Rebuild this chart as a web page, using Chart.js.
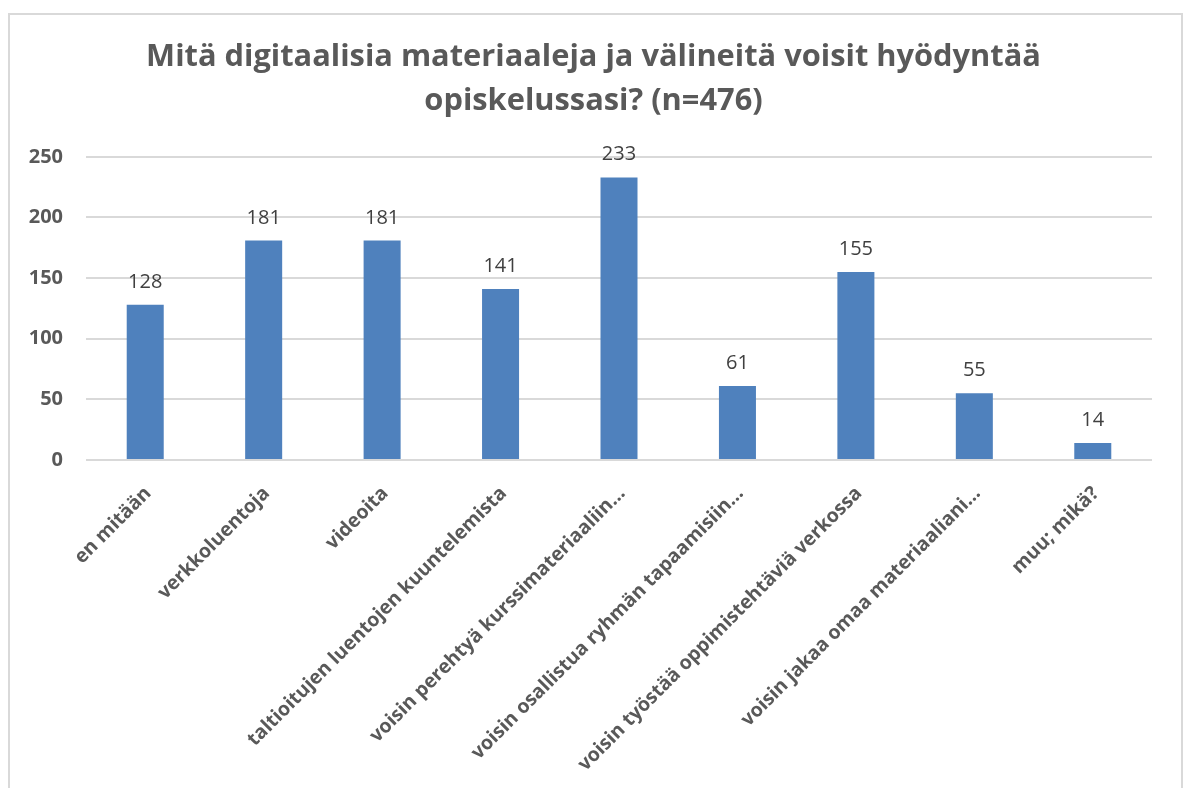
<!DOCTYPE html>
<html><head><meta charset="utf-8">
<script src="https://cdn.jsdelivr.net/npm/chart.js@4"></script>
<style>html,body{margin:0;padding:0;background:#fff;overflow:hidden}#wrap{position:relative;width:1187px;height:788px}</style>
</head><body><div id="wrap"><canvas id="c" width="1187" height="788"></canvas></div>
<script>
const titleLines = ['Mitä digitaalisia materiaaleja ja välineitä voisit hyödyntää', 'opiskelussasi? (n=476)'];
const categories = ['en mitään', 'verkkoluentoja', 'videoita', 'taltioitujen luentojen kuuntelemista', 'voisin perehtyä kurssimateriaaliin…', 'voisin osallistua ryhmän tapaamisiin…', 'voisin työstää oppimistehtäviä verkossa', 'voisin jakaa omaa materiaaliani…', 'muu; mikä?'];
const counts = [128, 181, 181, 141, 233, 61, 155, 55, 14];
const yTicks = [0, 50, 100, 150, 200, 250];

const frame = {
  id: 'frame',
  beforeDraw(chart) {
    const ctx = chart.ctx;
    ctx.save();
    ctx.fillStyle = '#ffffff';
    ctx.fillRect(0, 0, chart.width, chart.height);
    ctx.strokeStyle = '#d9d9d9';
    ctx.lineWidth = 2;
    ctx.strokeRect(9, 14, 1173, 800);
    ctx.restore();
  }
};
const valueLabels = {
  id: 'valueLabels',
  afterDatasetsDraw(chart) {
    const ctx = chart.ctx;
    const meta = chart.getDatasetMeta(0);
    ctx.save();
    ctx.font = '20px "Open Sans"';
    ctx.fillStyle = '#404040';
    ctx.textAlign = 'center';
    ctx.textBaseline = 'alphabetic';
    meta.data.forEach((bar, i) => {
      ctx.fillText(String(chart.data.datasets[0].data[i]), bar.x, bar.y - 17);
    });
    ctx.restore();
  }
};

new Chart(document.getElementById('c'), {
  type: 'bar',
  data: {
    labels: categories,
    datasets: [{
      data: counts,
      backgroundColor: '#4f81bd',
      borderWidth: 0,
      barPercentage: 0.3125,
      categoryPercentage: 1
    }]
  },
  options: {
    responsive: false,
    animation: false,
    devicePixelRatio: 1,
    layout: { padding: 0 },
    plugins: {
      legend: { display: false },
      tooltip: { enabled: false },
      title: {
        display: true,
        text: titleLines,
        color: '#595959',
        font: { family: '"Open Sans"', size: 30.8, weight: 'bold', lineHeight: 1.41 },
        padding: { top: 36, bottom: 34 }
      }
    },
    scales: {
      x: {
        grid: { display: false, drawTicks: false },
        border: { display: false },
        afterFit: s => { s.height = 328; },
        ticks: {
          autoSkip: false,
          minRotation: 45,
          maxRotation: 45,
          padding: 22,
          labelOffset: 3,
          color: '#595959',
          font: { family: '"Open Sans"', size: 19.5, weight: 'bold' }
        }
      },
      y: {
        min: 0,
        max: 250,
        afterFit: s => { s.width = 86; },
        afterBuildTicks: s => { s.ticks = yTicks.map(v => ({ value: v })); },
        grid: { color: '#d9d9d9', lineWidth: 2, drawTicks: false },
        border: { display: false },
        ticks: {
          padding: 23,
          color: '#595959',
          font: { family: '"Open Sans"', size: 20, weight: 'bold' }
        }
      },
      yPad: {
        position: 'right',
        min: 0,
        max: 250,
        afterFit: s => { s.width = 35; },
        grid: { display: false, drawTicks: false },
        border: { display: false },
        ticks: { display: false }
      }
    }
  },
  plugins: [frame, valueLabels]
});
</script></body></html>
